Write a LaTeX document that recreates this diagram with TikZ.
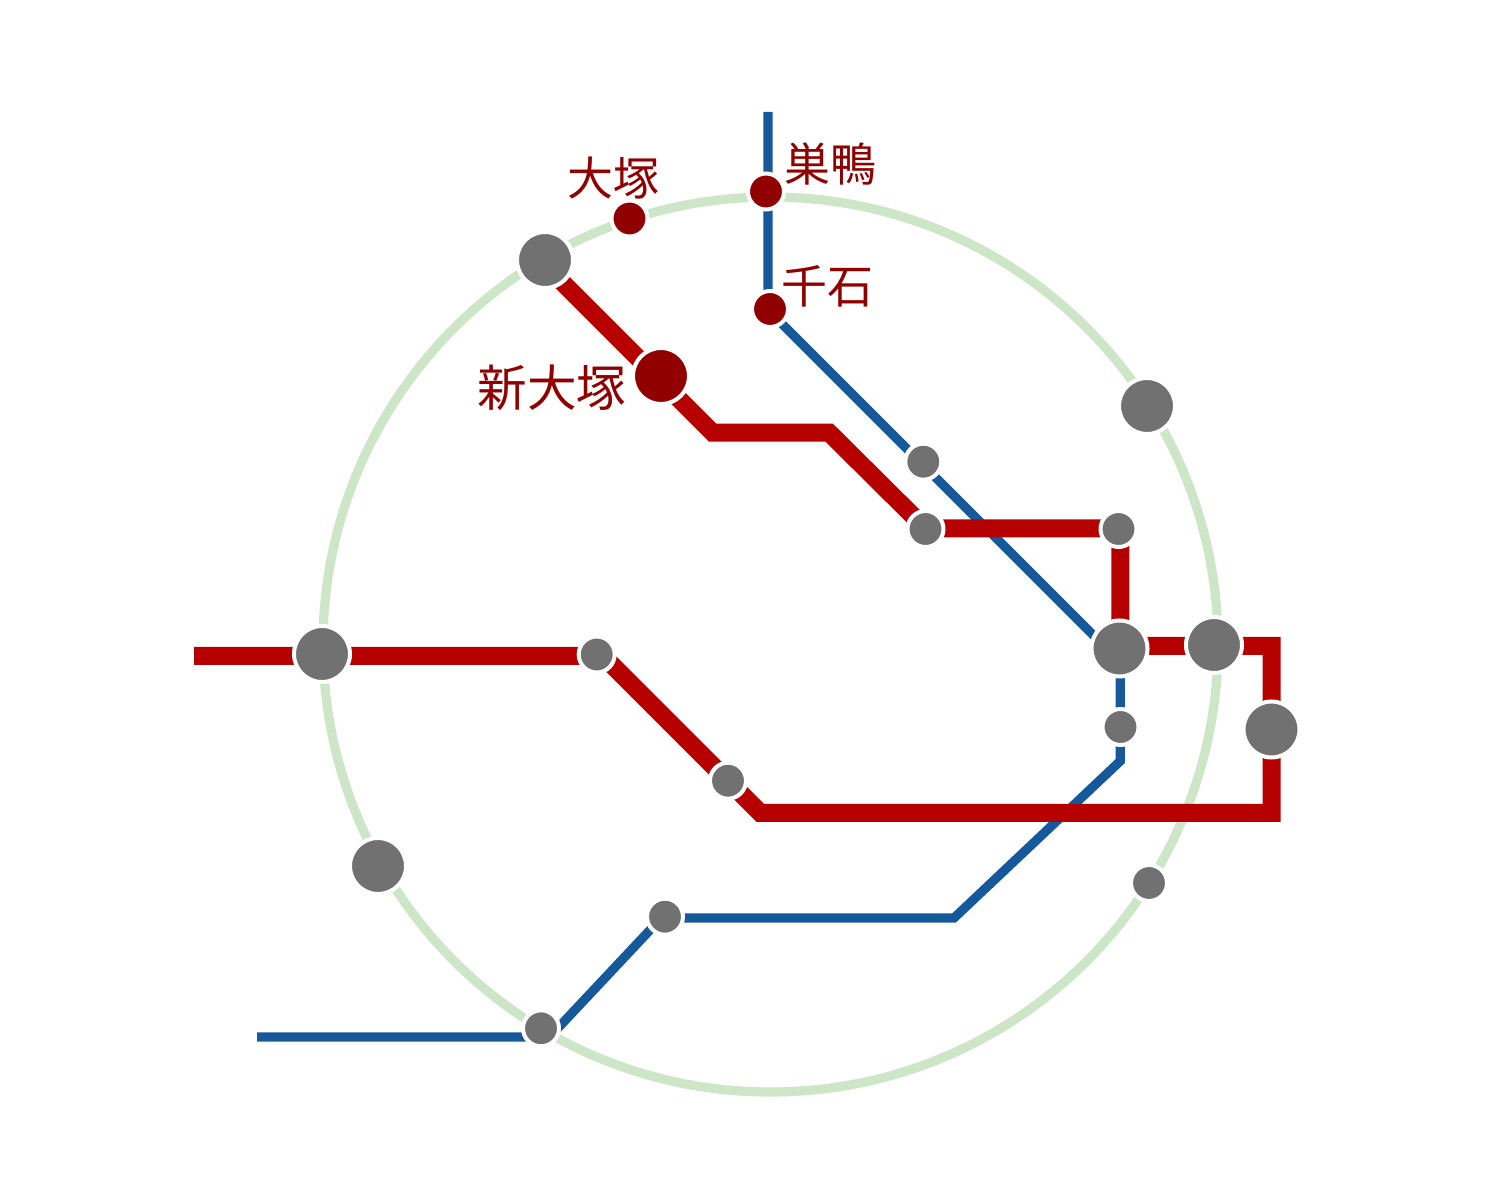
\documentclass[tikz,border=0pt]{standalone}
\usepackage{fontspec}
\newfontfamily\cjk{Noto Sans CJK JP}
\definecolor{ringgreen}{HTML}{CEE6C8}
\definecolor{lineblue}{HTML}{15599B}
\definecolor{linered}{HTML}{B60000}
\definecolor{stgray}{HTML}{717171}
\definecolor{stred}{HTML}{900000}
\pgfdeclarelayer{lines}
\pgfsetlayers{lines,main}
\tikzset{
  st/.style={circle,draw=white,line width=2pt,inner sep=0pt,outer sep=0pt},
  big/.style={st,minimum size=28pt},
  small/.style={st,minimum size=18pt},
  gray/.style={fill=stgray},
  dark/.style={fill=stred},
  lbl/.style={text=stred,inner sep=0pt,font=\cjk\fontsize{23}{25}\selectfont},
  lblbig/.style={text=stred,inner sep=0pt,font=\cjk\fontsize{24.8}{27}\selectfont},
  redline/.style={draw=linered,line width=9pt,miter limit=10},
  blueline/.style={draw=lineblue,line width=4.6pt},
  ringline/.style={draw=ringgreen,line width=4.6pt}
}
\begin{document}
\begin{tikzpicture}[x=0.5pt,y=-0.5pt]
\useasboundingbox (0,0) rectangle (1500,1186);
% ring
\coordinate (ringc) at (770.5,644.5);
% stations
\node[big,gray] (ikebukuro) at (545,260) {};
\node[big,gray] (shinjuku) at (322,654) {};
\node[big,gray] (tabata) at (1147,406) {};
\node[big,gray] (otemachi) at (1119.5,648.5) {};
\node[big,gray] (tokyo) at (1214,645) {};
\node[big,gray] (ginza) at (1271.5,729.5) {};
\node[big,gray] (shibuya) at (378,866) {};
\node[small,gray] (kasuga) at (923.3,461.7) {};
\node[small,gray] (hongo) at (925.5,529) {};
\node[small,gray] (awaji) at (1118.5,529) {};
\node[small,gray] (yotsuya) at (596.7,654.5) {};
\node[small,gray] (kasumi) at (728,780.7) {};
\node[small,gray] (hibiya) at (1120.5,727) {};
\node[small,gray] (hamamatsu) at (1149,883) {};
\node[small,gray] (shiba) at (665,916.7) {};
\node[small,gray] (meguro) at (541,1028.3) {};
\node[small,dark] (otsuka) at (629.5,218.5) {};
\node[small,dark] (sugamo) at (766,191.5) {};
\node[small,dark] (sengoku) at (770,309) {};
\node[big,dark] (shinotsuka) at (661,376) {};
% bends and free ends
\coordinate (r0) at (545,265);
\coordinate (r1) at (712.7,432.7);
\coordinate (r2) at (829.2,432.7);
\coordinate (r2b) at (925.5,528.3);
\coordinate (r3) at (1120.3,528.3);
\coordinate (r4) at (1120.3,646);
\coordinate (r5) at (1271.7,646);
\coordinate (r6) at (1271.7,813);
\coordinate (r7) at (760.3,813);
\coordinate (r8) at (603,656);
\coordinate (redend) at (194,656);
\coordinate (b0) at (768,112);
\coordinate (b1) at (768,310);
\coordinate (b2) at (1120.3,662.3);
\coordinate (b3) at (1120.3,761);
\coordinate (b4) at (954,918);
\coordinate (b4a) at (661.3,918);
\coordinate (b5) at (549.5,1037);
\coordinate (blueend) at (257,1037);
% labels
\node[lbl] (lotsuka) at (613,178) {大塚};
\node[lbl] (lsugamo) at (830.5,164) {巣鴨};
\node[lbl] (lsengoku) at (827,286) {千石};
\node[lblbig] (lshin) at (552,388) {新大塚};
\begin{pgfonlayer}{lines}
\draw[ringline] (ringc) circle[radius=447.5];
\draw[blueline,line join=miter] (b0) -- (b1) -- (b2) -- (b3) -- (b4) -- (b4a) -- (b5) -- (blueend);
\draw[redline] (r0) -- (r1) -- (r2) -- (r2b) -- (r3) -- (r4) -- (r5) -- (r6) -- (r7) -- (r8) -- (redend);
\end{pgfonlayer}
\end{tikzpicture}
\end{document}
